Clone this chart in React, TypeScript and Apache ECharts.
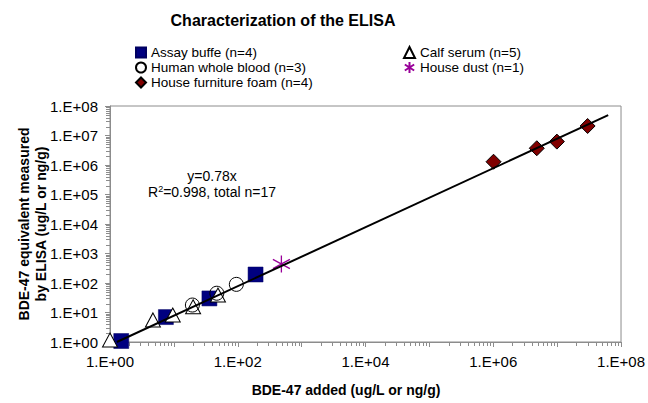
import React, { useEffect, useRef } from "react";
import * as echarts from "echarts";

// ---- data ----
const assayX = [1.5, 7.5, 36, 190];
const assayY = [1.08, 7.0, 30, 194];
const calfX = [1.0, 4.7, 9.6, 20, 49];
const calfY = [1.17, 5.6, 8.2, 15.7, 39];
const bloodX = [19.5, 47, 95];
const bloodY = [17.9, 45, 90];
const dustX = [482];
const dustY = [441];
const foamX = [1.01e6, 4.8e6, 9.9e6, 3.0e7];
const foamY = [1.29e6, 3.7e6, 6.2e6, 2.1e7];
const fitX = [1.28, 6.3e7];
const fitY = [1.0, 4.9e7];

const seriesNames = [
  "Assay buffe (n=4)",
  "Calf serum (n=5)",
  "Human whole blood (n=3)",
  "House dust (n=1)",
  "House furniture foam (n=4)",
];
const decades = [0, 1, 2, 3, 4, 5, 6, 7];
const minorMultipliers = [2, 3, 4, 5, 6, 7, 8, 9];

const FONT = '"Liberation Sans", Arial, sans-serif';
const AXIS_GRAY = "#8c8c8c";
const ASTERISK = "path://M0,-1L0,1M-0.85,-0.55L0.85,0.55M-0.85,0.55L0.85,-0.55";

const zip = (xs: number[], ys: number[]) => xs.map((x, i) => [x, ys[i]]);
const expLabel = (v: number) => {
  const e = Math.round(Math.log10(v));
  return "1.E+" + String(e).padStart(2, "0");
};

export default function App() {
  const ref = useRef<HTMLDivElement>(null);
  useEffect(() => {
    if (!ref.current) return;
    const chart = echarts.init(ref.current, null, { renderer: "svg" });
    const minorVals: number[] = [];
    decades.forEach((d) => minorMultipliers.forEach((m) => minorVals.push(m * Math.pow(10, d))));

    const legendText = { fontSize: 13.5, lineHeight: 15, color: "#000", fontFamily: FONT };

    const option: any = {
      animation: false,
      backgroundColor: "#fff",
      textStyle: { fontFamily: FONT },
      grid: {
        left: 110,
        top: 106,
        width: 513,
        height: 236,
        show: true,
        borderColor: AXIS_GRAY,
        borderWidth: 1,
        backgroundColor: "transparent",
      },
      legend: [
        {
          orient: "vertical",
          left: 135,
          top: 45,
          itemWidth: 10,
          itemHeight: 10,
          itemGap: 0,
          padding: 0,
          textStyle: legendText,
          data: [seriesNames[0], seriesNames[2], seriesNames[4]],
        },
        {
          orient: "vertical",
          left: 403,
          top: 45,
          itemWidth: 11,
          itemHeight: 11,
          itemGap: 0,
          padding: 0,
          textStyle: legendText,
          data: [seriesNames[1], seriesNames[3]],
        },
      ],
      xAxis: {
        type: "log",
        logBase: 10,
        min: 1,
        max: 1e8,
        splitNumber: 8,
        axisLine: { show: true, lineStyle: { color: AXIS_GRAY, width: 1 } },
        axisTick: { show: true, interval: 0, length: 5, lineStyle: { color: AXIS_GRAY } },
        axisLabel: {
          fontSize: 15,
          color: "#000",
          margin: 12,
          fontFamily: FONT,
          formatter: (v: number) => {
            const e = Math.round(Math.log10(v));
            return e % 2 === 0 ? expLabel(v) : "";
          },
        },
        splitLine: { show: false },
      },
      yAxis: {
        type: "log",
        logBase: 10,
        min: 1,
        max: 1e8,
        splitNumber: 8,
        axisLine: { show: true, lineStyle: { color: AXIS_GRAY, width: 1 } },
        axisTick: { show: true, interval: 0, length: 5, lineStyle: { color: AXIS_GRAY } },
        axisLabel: { fontSize: 15, color: "#000", margin: 12, fontFamily: FONT, formatter: expLabel },
        splitLine: { show: false },
      },
      graphic: [
        {
          type: "text",
          x: 283,
          y: 20,
          style: {
            text: "Characterization of the ELISA",
            fontSize: 16,
            fontWeight: "bold",
            fontFamily: FONT,
            fill: "#000",
            align: "center",
            verticalAlign: "middle",
          },
        },
        {
          type: "text",
          x: 346,
          y: 390,
          style: {
            text: "BDE-47 added (ug/L or ng/g)",
            fontSize: 14,
            fontWeight: "bold",
            fontFamily: FONT,
            fill: "#000",
            align: "center",
            verticalAlign: "middle",
          },
        },
        {
          type: "text",
          x: 32,
          y: 224,
          rotation: Math.PI / 2,
          style: {
            text: "BDE-47 equivalent measured\nby ELISA (ug/L or ng/g)",
            fontSize: 14,
            lineHeight: 17,
            fontWeight: "bold",
            fontFamily: FONT,
            fill: "#000",
            align: "center",
            verticalAlign: "middle",
          },
        },
        {
          type: "text",
          x: 212,
          y: 176,
          style: {
            text: "y=0.78x",
            fontSize: 14,
            fontFamily: FONT,
            fill: "#000",
            align: "center",
            verticalAlign: "middle",
          },
        },
        {
          type: "text",
          x: 212,
          y: 192,
          style: {
            text: "R{sup|2}=0.998, total n=17",
            fontSize: 14,
            lineHeight: 16,
            fontFamily: FONT,
            fill: "#000",
            align: "center",
            verticalAlign: "middle",
            rich: {
              sup: { fontSize: 9, lineHeight: 16, verticalAlign: "top", fontFamily: FONT, fill: "#000" },
            },
          },
        },
      ],
      series: [
        {
          name: seriesNames[0],
          type: "scatter",
          symbol: "rect",
          symbolSize: 15,
          clip: false,
          itemStyle: { color: "#000080", borderColor: "#000060", borderWidth: 0.5, opacity: 1 },
          data: zip(assayX, assayY),
          z: 2,
        },
        {
          name: seriesNames[1],
          type: "scatter",
          symbol: "triangle",
          symbolSize: [15, 14],
          clip: false,
          itemStyle: { color: "#fff", borderColor: "#000", borderWidth: 1, opacity: 1 },
          data: zip(calfX, calfY),
          z: 3,
        },
        {
          name: seriesNames[2],
          type: "scatter",
          symbol: "circle",
          symbolSize: 14,
          clip: false,
          itemStyle: { color: "rgba(255,255,255,0)", borderColor: "#000", borderWidth: 1, opacity: 1 },
          data: zip(bloodX, bloodY),
          z: 4,
        },
        {
          name: seriesNames[3],
          type: "scatter",
          symbol: ASTERISK,
          symbolSize: 17,
          clip: false,
          itemStyle: { color: "#990099", borderColor: "#990099", borderWidth: 1.3, opacity: 1 },
          data: zip(dustX, dustY),
          z: 5,
        },
        {
          name: seriesNames[4],
          type: "scatter",
          symbol: "diamond",
          symbolSize: 15,
          clip: false,
          itemStyle: { color: "#800000", borderColor: "#000", borderWidth: 1, opacity: 1 },
          data: zip(foamX, foamY),
          z: 6,
        },
        {
          name: "fit",
          type: "line",
          showSymbol: false,
          symbol: "none",
          silent: true,
          lineStyle: { color: "#000", width: 2 },
          data: zip(fitX, fitY),
          z: 10,
        },
        {
          name: "xMinor",
          type: "custom",
          coordinateSystem: "cartesian2d",
          silent: true,
          clip: false,
          data: minorVals.map((v) => [v, 1]),
          renderItem: (params: any, api: any) => {
            const p = api.coord([api.value(0), 1]);
            const x = Math.round(p[0]) + 0.5;
            return {
              type: "line",
              shape: { x1: x, y1: p[1], x2: x, y2: p[1] + 4 },
              style: { stroke: AXIS_GRAY, lineWidth: 1 },
            };
          },
          z: 1,
        },
        {
          name: "yMinor",
          type: "custom",
          coordinateSystem: "cartesian2d",
          silent: true,
          clip: false,
          data: minorVals.map((v) => [1, v]),
          renderItem: (params: any, api: any) => {
            const p = api.coord([1, api.value(1)]);
            const y = Math.round(p[1]) + 0.5;
            return {
              type: "line",
              shape: { x1: p[0] - 4, y1: y, x2: p[0], y2: y },
              style: { stroke: AXIS_GRAY, lineWidth: 1 },
            };
          },
          z: 1,
        },
      ],
    };
    chart.setOption(option);
    return () => chart.dispose();
  }, []);

  return (
    <div
      ref={ref}
      style={{ position: "fixed", left: 0, top: 0, width: 648, height: 403, background: "#fff" }}
    />
  );
}
